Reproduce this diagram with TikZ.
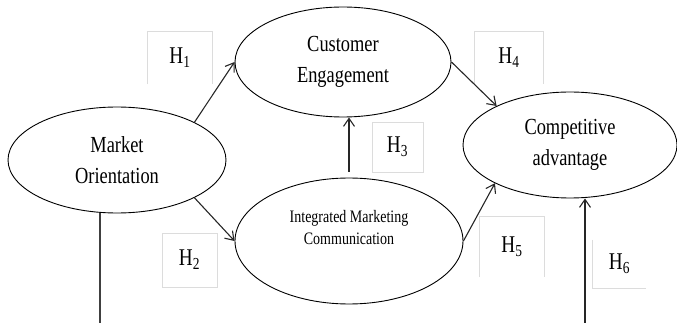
\documentclass[tikz,border=0pt]{standalone}
\usepackage{fontspec}
\setmainfont[FakeStretch=0.8]{Liberation Serif}
\usetikzlibrary{shapes.geometric,arrows.meta}
\definecolor{boxgray}{HTML}{DCDCDC}
\begin{document}
\begin{tikzpicture}[x=1pt,y=-1pt,
    construct/.style={draw,ellipse,line width=0.9pt,inner sep=0pt,align=center,font=\fontsize{23}{31}\selectfont},
    hyp/.style={inner sep=0pt,font=\fontsize{24}{26}\selectfont},
    frame/.style={draw=boxgray,line width=0.8pt},
    link/.style={line width=1.1pt,draw=black!85,-{Straight Barb[length=8pt,width=11pt]}},
    plain/.style={line width=1.1pt,draw=black!75}]
      \useasboundingbox (0,0) rectangle (677,323);
      % constructs
      \node[construct,minimum width=218pt,minimum height=106pt] (mo) at (117,160) {Market\\Orientation};
      \node[construct,minimum width=216pt,minimum height=110pt] (ce) at (343,62) {Customer\\Engagement};
      \node[construct,minimum width=214pt,minimum height=106pt] (ca) at (570,145) {Competitive\\advantage};
      \node[construct,minimum width=228pt,minimum height=126pt,
            label={[align=center,yshift=13pt,font=\fontsize{17.5}{22}\selectfont]center:Integrated Marketing\\Communication}] (ia) at (349,241) {};
      % hypotheses
      \node[hyp,minimum width=64pt,minimum height=52pt] (h1) at (180,58) {H\textsubscript{1}};
      \node[hyp,frame,minimum width=55pt,minimum height=54pt] (h2) at (189.5,260) {H\textsubscript{2}};
      \node[hyp,frame,minimum width=51pt,minimum height=50pt] (h3) at (397.5,147) {H\textsubscript{3}};
      \node[hyp,minimum width=68pt,minimum height=52pt] (h4) at (509,58) {H\textsubscript{4}};
      \node[hyp,minimum width=64pt,minimum height=60pt] (h5) at (512,247) {H\textsubscript{5}};
      \node[hyp,minimum width=53pt,minimum height=48pt] (h6) at (619.5,264) {H\textsubscript{6}};
      \draw[frame] (h1.south west) |- (h1.north east) -- (h1.south east);
      \draw[frame] (h4.south west) |- (h4.north east) -- (h4.south east);
      \draw[frame] (h5.south west) |- (h5.north east) -- (h5.south east);
      \draw[frame] (h6.north west) |- (h6.south east);
      % paths
      \coordinate (mob) at (100,323);
      \coordinate (cab) at (585,323);
      \draw[link] (mo.26) -- (ce.west);
      \draw[link] (mo.-26) -- (ia.west);
      \draw[link,shorten <=6pt] (ia.north) -- (ia.north |- ce.south);
      \draw[link] (ce.east) -- (ca.152);
      \draw[link] (ia.east) -- (ca.207);
      \draw[plain] (mo.south -| mob) -- (mob);
      \draw[link] (cab) -- (cab |- ca.south);
    \end{tikzpicture}
\end{document}
